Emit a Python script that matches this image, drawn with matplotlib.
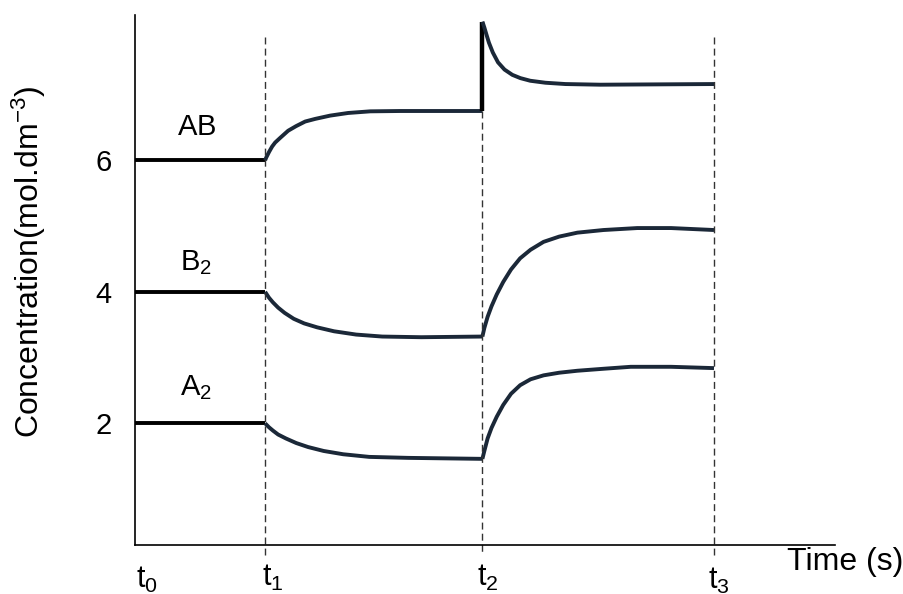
import matplotlib
matplotlib.use("Agg")
import matplotlib.pyplot as plt

plt.rcParams['font.family'] = ['Liberation Sans', 'DejaVu Sans']

# time marks (t0..t3) and the axis range
t_marks = [0, 10, 26.7, 44.5]
t_labels = [r'$\mathregular{t_0}$', r'$\mathregular{t_1}$', r'$\mathregular{t_2}$', r'$\mathregular{t_3}$']
x_max = 53.8

# initial equilibrium levels (t0 -> t1)
species = [r'$\mathregular{AB}$', r'$\mathregular{B_2}$', r'$\mathregular{A_2}$']
start_levels = [6, 4, 2]

# AB after t1, and after the jump at t2
ab1_x = [10, 10.08, 10.31, 10.54, 10.77, 11.15, 11.77, 12.38, 13.08, 13.85, 15.0, 16.38, 18.08, 20.38, 26.7]
ab1_y = [6.0, 6.04, 6.13, 6.21, 6.27, 6.34, 6.45, 6.52, 6.59, 6.63, 6.68, 6.72, 6.745, 6.75, 6.75]
ab2_x = [26.7, 26.7, 26.85, 27.0, 27.2, 27.5, 27.9, 28.4, 29.0, 29.62, 30.38, 31.54, 33.08, 35.77, 44.5]
ab2_y = [6.75, 8.11, 8.02, 7.92, 7.79, 7.64, 7.49, 7.38, 7.30, 7.25, 7.21, 7.18, 7.16, 7.15, 7.16]

# B2 after t1 and t2
b1_x = [10, 10.3, 10.6, 11.0, 11.5, 12.2, 13.0, 14.0, 15.3, 17.0, 19.0, 22.0, 26.7]
b1_y = [4.0, 3.91, 3.84, 3.76, 3.68, 3.59, 3.52, 3.46, 3.40, 3.35, 3.32, 3.31, 3.32]
b2_x = [26.7, 26.85, 27.1, 27.4, 27.8, 28.3, 28.9, 29.6, 30.4, 31.4, 32.6, 34.0, 36.0, 38.6, 41.2, 44.5]
b2_y = [3.32, 3.45, 3.62, 3.78, 3.96, 4.15, 4.34, 4.51, 4.64, 4.76, 4.84, 4.90, 4.94, 4.97, 4.97, 4.94]

# A2 after t1 and t2
a1_x = [10, 10.3, 10.6, 11.0, 11.6, 12.4, 13.3, 14.5, 16.0, 18.0, 21.0, 26.7]
a1_y = [2.0, 1.94, 1.89, 1.83, 1.77, 1.70, 1.64, 1.58, 1.53, 1.49, 1.475, 1.46]
a2_x = [26.7, 26.85, 27.1, 27.4, 27.8, 28.3, 28.9, 29.6, 30.4, 31.4, 32.6, 34.0, 36.0, 38.1, 41.2, 44.5]
a2_y = [1.46, 1.58, 1.77, 1.93, 2.10, 2.28, 2.45, 2.58, 2.67, 2.73, 2.77, 2.80, 2.83, 2.86, 2.86, 2.84]

# dashed marker tops
dash_tops = [7.88, 6.75, 7.88]

fig = plt.figure(figsize=(9.04, 5.94), dpi=100)
ax = fig.add_axes([135 / 904, 49 / 594, 700 / 904, 530 / 594])

curve_col = '#1b2838'
lw = 2.8
for lvl in start_levels:
    ax.plot([t_marks[0], t_marks[1]], [lvl, lvl], color='black', lw=lw, solid_capstyle='butt')
for xs, ys in [(ab1_x, ab1_y), (b1_x, b1_y), (a1_x, a1_y), (b2_x, b2_y), (a2_x, a2_y)]:
    ax.plot(xs, ys, color=curve_col, lw=lw, solid_joinstyle='round', solid_capstyle='butt')
ax.plot(ab2_x[:2], ab2_y[:2], color='black', lw=3.2, solid_capstyle='butt')
ax.plot(ab2_x[1:], ab2_y[1:], color=curve_col, lw=lw, solid_joinstyle='round', solid_capstyle='butt')

for t, top in zip(t_marks[1:], dash_tops):
    ax.plot([t, t], [top, 0.0], color='#333333', lw=1.0, ls=(0, (5, 3)), clip_on=False)

# species labels
label_y = [6.5, 4.45, 2.55]
for name, y in zip(species, label_y):
    ax.text(4.7, y, name, fontsize=21, ha='center', va='center')

ax.set_xlim(0, x_max)
ax.set_ylim(0.15, 8.21)
ax.spines['top'].set_visible(False)
ax.spines['right'].set_visible(False)
for s in ['left', 'bottom']:
    ax.spines[s].set_linewidth(1.2)

ax.set_yticks(start_levels)
ax.set_yticklabels([str(v) for v in start_levels], fontsize=21)
ax.tick_params(axis='y', length=0, pad=17)
ax.set_xticks([])

offsets = [(1, -14), (-2, -13), (-4, -13), (-4, -15)]
for t, lab, (dx, dy) in zip(t_marks, t_labels, offsets):
    ax.annotate(lab, xy=(t, 0), xycoords=('data', 'axes fraction'), xytext=(dx, dy),
                textcoords='offset points', ha='left', va='top', fontsize=22,
                annotation_clip=False)

fig.text(787 / 904, 1 - 570 / 594, 'Time (s)', fontsize=23, ha='left', va='baseline')
fig.text(29 / 904, 1 - 262 / 594, r'Concentration(mol.dm$\mathregular{^{-3}}$)',
         fontsize=23, rotation=90, ha='center', va='center')

fig.savefig('out.png', dpi=100)
